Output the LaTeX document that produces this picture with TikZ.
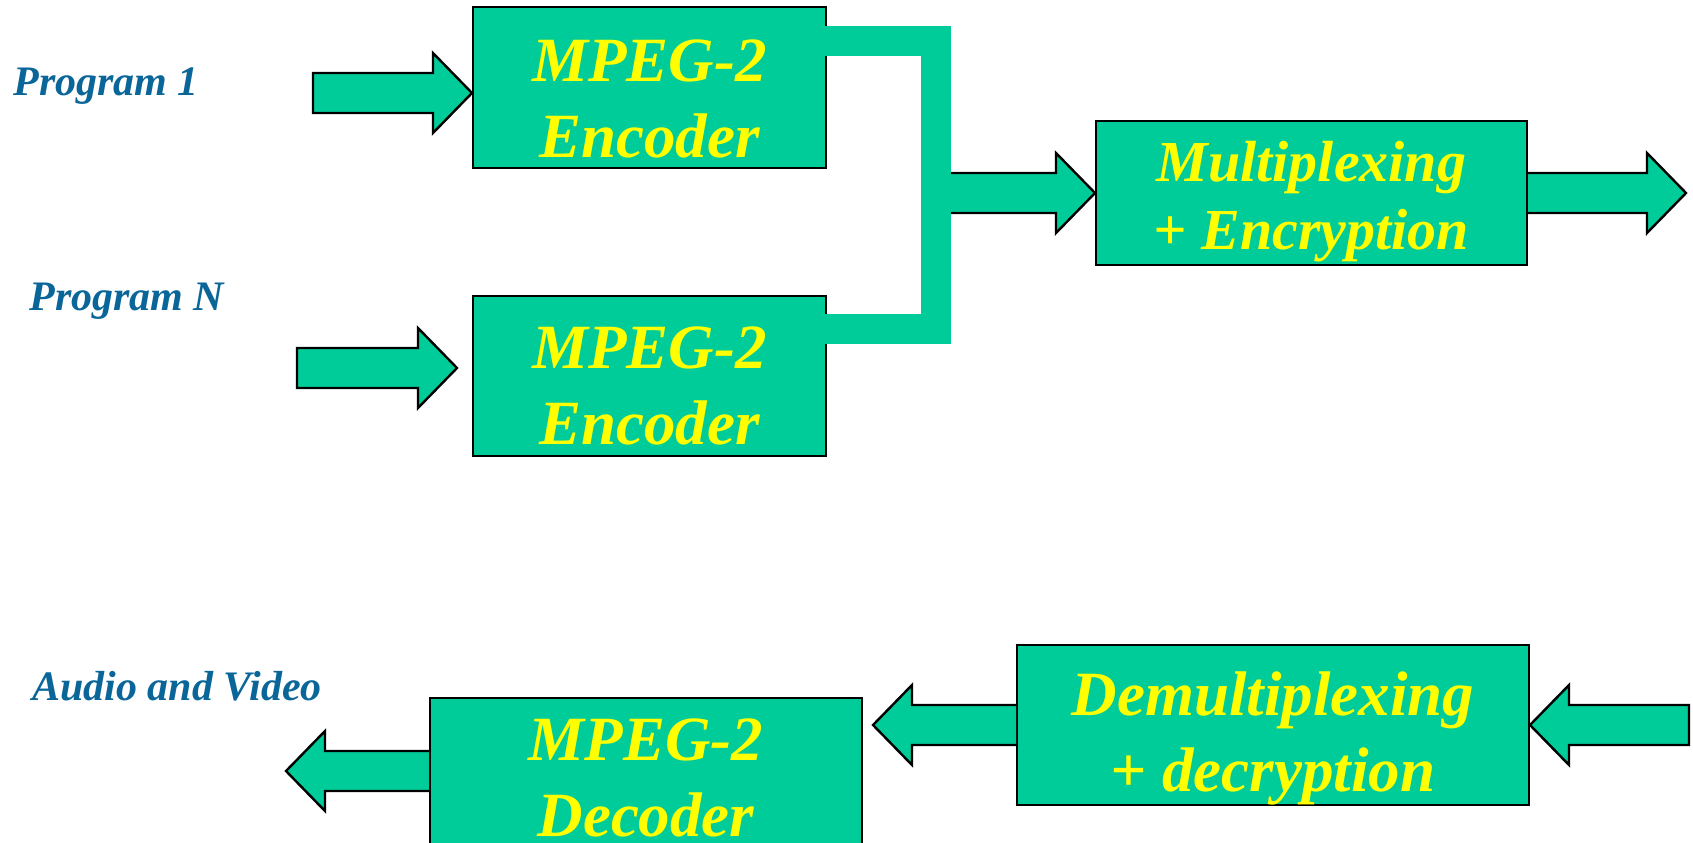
\documentclass[tikz,border=0pt]{standalone}
\usepackage{fontspec}
\setmainfont{Liberation Serif}
\usetikzlibrary{calc}
\definecolor{boxgreen}{HTML}{00CC99}
\definecolor{labelblue}{HTML}{0A6699}
\definecolor{textyellow}{HTML}{FFFF00}
\newcommand{\shaftw}{10pt}
\newcommand{\headw}{20pt}
\newcommand{\headlen}{19.5pt}
\newcommand{\fatarrow}[3]{%
  \filldraw[fat] let \p1=(#1), \p2=(#2), \p3=($(\x2,\y1)!\headlen!(\x1,\y1)$) in
    (\x1,\y1+\shaftw) -- (\x3,\y1+\shaftw) -- (\x3,\y1+\headw) -- (\x2,\y1)
    -- (\x3,\y1-\headw) -- (\x3,\y1-\shaftw) -- (\x1,\y1-\shaftw) #3;}
\begin{document}
\begin{tikzpicture}[x=0.5pt,y=0.5pt,
	blk/.style={draw=black,line width=1pt,fill=boxgreen,text=textyellow,align=center,
		inner sep=0pt,font=\fontsize{31.5}{37.8}\selectfont\bfseries\itshape},
	small/.style={font=\fontsize{29}{34}\selectfont\bfseries\itshape},
	lbl/.style={text=labelblue,inner sep=0pt,anchor=base west,font=\fontsize{21}{25}\selectfont\bfseries\itshape},
	fat/.style={draw=black,line width=1.2pt,fill=boxgreen},
	bus/.style={draw=boxgreen,line width=15pt}]
		\clip (0,0) rectangle (1693,-842);
		\node [blk,minimum width=176.5pt,minimum height=80.5pt] (enc1) at (649.5,-87.5) {\rule{0pt}{32pt}MPEG-2\\Encoder};
		\node [blk,minimum width=176.5pt,minimum height=80pt] (enc2) at (649.5,-376) {\rule{0pt}{30.5pt}MPEG-2\\Encoder};
		\node [blk,small,minimum width=215.5pt,minimum height=72pt] (mux) at (1311.5,-193) {\rule{0pt}{28.5pt}Multiplexing\\+ Encryption};
		\node [blk,minimum width=256pt,minimum height=79pt] (demux) at (1273,-725) {\rule{0pt}{35pt}Demultiplexing\\+ decryption};
		\node [blk,minimum width=216pt,minimum height=80pt] (dec) at (646,-778) {MPEG-2\\Decoder};
		\node [lbl] (prog1) at (13,-95) {Program 1};
		\node [lbl] (progn) at (29,-310) {Program N};
		\node [lbl] (av) at (32,-700) {Audio and Video};
		\coordinate (p1in) at (313,-93);
		\coordinate (pnin) at (297,-368);
		\coordinate (bus) at (935.5,-193);
		\coordinate (busout) at (951,-193);
		\coordinate (tsout) at (1686,-193);
		\coordinate (tsin) at (1689,-725);
		\coordinate (avout) at (286,-771);
		\draw [bus] ([xshift=-1pt,yshift=-17.5pt]enc1.north east) -| (bus) |- ([xshift=-1pt,yshift=-16.75pt]enc2.north east);
		\fatarrow{p1in}{enc1.west}{-- cycle}
		\fatarrow{pnin}{[xshift=-7.5pt]enc2.west}{-- cycle}
		\fatarrow{busout}{mux.west}{}
		\fatarrow{mux.east}{tsout}{}
		\fatarrow{tsin}{demux.east}{-- cycle}
		\fatarrow{demux.west}{[xshift=5pt]dec.east}{}
		\fatarrow{[yshift=3.5pt]dec.west}{avout}{}
		\end{tikzpicture}
\end{document}
